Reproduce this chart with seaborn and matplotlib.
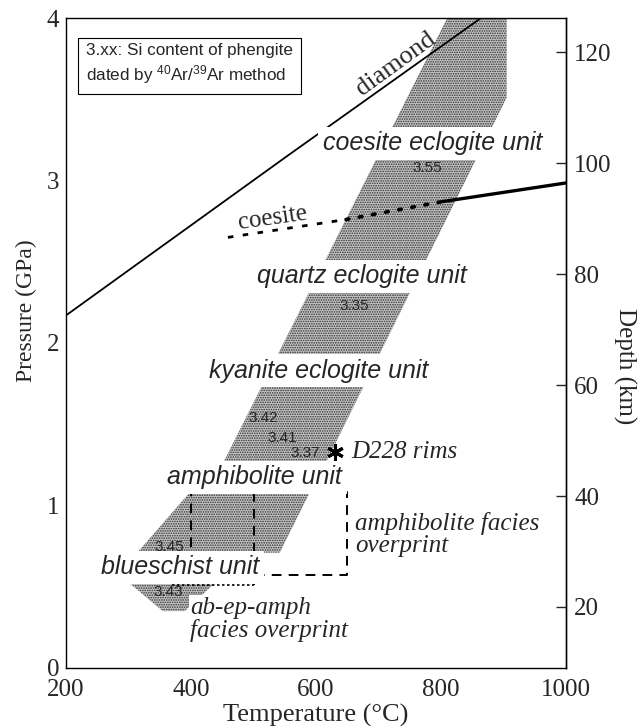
import matplotlib
matplotlib.use("Agg")
import matplotlib.pyplot as plt
import seaborn as sns
from matplotlib.ticker import MultipleLocator

# --- data (temperature in degC, pressure in GPa) ---
diamond_T = [200, 550, 864]
diamond_P = [2.17, 3.14, 4.0]

coesite_dash_T = [459, 648]
coesite_dash_P = [2.65, 2.76]
coesite_dot_T = [648, 802]
coesite_dot_P = [2.76, 2.87]
coesite_solid_T = [802, 1000]
coesite_solid_P = [2.87, 2.985]

# stippled P-T band, in three pieces
band_upper_T = [810, 905, 905, 610, 446]
band_upper_P = [4.0, 4.0, 3.51, 1.22, 1.22]
band_mid_T = [398, 590, 542, 314]
band_mid_P = [1.08, 1.08, 0.71, 0.71]
band_low_T = [299, 440, 390, 355]
band_low_P = [0.53, 0.53, 0.35, 0.35]

# overprint boxes
amph_box_T = [400, 650, 650, 400, 400]
amph_box_P = [1.08, 1.08, 0.57, 0.57, 1.08]
inner_T = [500, 500]
inner_P = [1.08, 0.51]
abep_T = [370, 500]
abep_P = [0.51, 0.51]

# D228 rims sample
d228_T = [630]
d228_P = [1.33]

# unit labels
unit_labels = ["coesite eclogite unit", "quartz eclogite unit", "kyanite eclogite unit",
               "amphibolite unit", "blueschist unit"]
unit_T = [786, 673, 605, 502, 383]
unit_P = [3.23, 2.41, 1.83, 1.175, 0.62]

# Si contents of phengite
si_labels = ["3.55", "3.35", "3.42", "3.41", "3.37", "3.45", "3.43"]
si_T = [778, 662, 515, 546, 582, 366, 363]
si_P = [3.08, 2.23, 1.54, 1.415, 1.32, 0.745, 0.468]

x_ticks = [200, 400, 600, 800, 1000]
y_ticks = [0, 1, 2, 3, 4]
depth_ticks = [20, 40, 60, 80, 100, 120]

sns.set_style("white")
plt.rcParams['font.family'] = ['Liberation Serif', 'DejaVu Serif']
plt.rcParams['mathtext.fontset'] = 'custom'
plt.rcParams['mathtext.rm'] = 'Liberation Sans'
plt.rcParams['mathtext.it'] = 'Liberation Sans:italic'
plt.rcParams['hatch.linewidth'] = 0.8

fig = plt.figure(figsize=(6.44, 7.26), dpi=100)
ax = fig.add_axes([0.1025, 0.0799, 0.7764, 0.8953])

stipple = dict(facecolor='#c6c6c6', edgecolor='#2e2e2e', linewidth=0, hatch='.......', zorder=1)
ax.fill(band_upper_T, band_upper_P, **stipple)
ax.fill(band_mid_T, band_mid_P, **stipple)
ax.fill(band_low_T, band_low_P, **stipple)

sns.lineplot(x=diamond_T, y=diamond_P, ax=ax, color='black', lw=1.3, zorder=2)
sns.lineplot(x=coesite_dash_T, y=coesite_dash_P, ax=ax, color='black', lw=2.0, zorder=2)
ax.lines[-1].set_dashes([2, 3.4])
ax.plot(coesite_dot_T, coesite_dot_P, color='black', lw=2.6, ls=(0, (0.8, 2.9)),
        dash_capstyle='round', zorder=2)
sns.lineplot(x=coesite_solid_T, y=coesite_solid_P, ax=ax, color='black', lw=2.4, zorder=2)

dash = dict(color='black', lw=1.4, ls=(0, (5, 3.7)), zorder=2)
ax.plot(amph_box_T, amph_box_P, **dash)
ax.plot(inner_T, inner_P, **dash)
ax.plot(abep_T, abep_P, color='black', lw=1.2, ls=(0, (1.5, 1.5)), zorder=2)

ax.plot(d228_T, d228_P, marker=(6, 2, 0), ms=12, mew=2.2, color='black', ls='none', zorder=4)

sans_it = dict(family='Liberation Sans', style='italic', fontsize=18, ha='center', va='center',
               zorder=5, bbox=dict(boxstyle='square,pad=0.18', facecolor='white', edgecolor='none'))
for lab, t, p in zip(unit_labels, unit_T, unit_P):
    ax.text(t, p, lab, **sans_it)

for lab, t, p in zip(si_labels, si_T, si_P):
    ax.text(t, p, lab, family='Liberation Sans', fontsize=11, ha='center', va='center', zorder=6)

ax.text(232, 3.714, "3.xx: Si content of phengite\ndated by $^{40}$Ar/$^{39}$Ar method",
        family='Liberation Sans', fontsize=12.3, ha='left', va='center', linespacing=1.3, zorder=6,
        bbox=dict(boxstyle='square,pad=0.45', facecolor='white', edgecolor='black', lw=0.8))

ax.text(728, 3.715, "diamond", fontsize=19, rotation=36, ha='center', va='center', zorder=5)
ax.text(530, 2.77, "coesite", fontsize=18, rotation=8, ha='center', va='center', zorder=5)
ax.text(657, 1.33, "D228 rims", fontsize=18, style='italic', ha='left', va='center', zorder=5)
ax.text(662, 0.82, "amphibolite facies\noverprint", fontsize=18, style='italic', ha='left',
        va='center', linespacing=1.0, zorder=5)
ax.text(398, 0.30, "ab-ep-amph\nfacies overprint", fontsize=18, style='italic', ha='left',
        va='center', linespacing=1.0, zorder=5,
        bbox=dict(boxstyle='square,pad=0.05', facecolor='white', edgecolor='none'))

ax.set_xlim(200, 1000)
ax.set_ylim(0, 4)
ax.set_xticks(x_ticks)
ax.set_yticks(y_ticks)
ax.xaxis.set_minor_locator(MultipleLocator(100))
ax.tick_params(axis='both', which='both', direction='in', labelsize=18, top=False, right=False,
               length=7, width=1, pad=5)
ax.tick_params(axis='x', pad=8)
for s in ax.spines.values():
    s.set_linewidth(1.0)
    s.set_color('black')

ax.set_xlabel("Temperature (°C)", fontsize=19, labelpad=2)
ax.set_ylabel("Pressure (GPa)", fontsize=17)
ax.yaxis.set_label_coords(-0.058, 0.55)

sec = ax.secondary_yaxis('right', functions=(lambda p: 29.3 * p + 9.0, lambda d: (d - 9.0) / 29.3))
sec.set_yticks(depth_ticks)
sec.tick_params(direction='in', labelsize=18, length=7, width=1, pad=6)
sec.spines['right'].set_linewidth(1.0)
fig.text(625 / 644, 1 - 366 / 726, "Depth (km)", fontsize=18, rotation=270, ha='center', va='center')

fig.savefig("out.png", dpi=100)
